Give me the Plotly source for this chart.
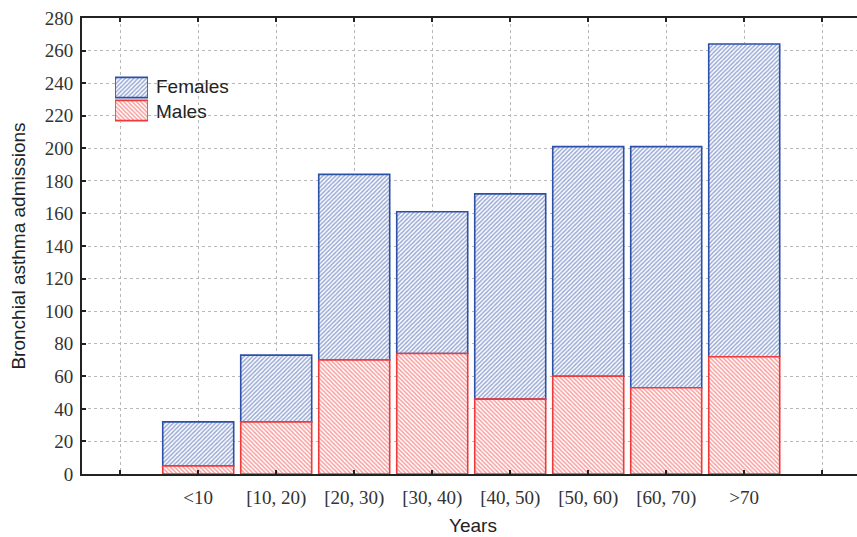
import plotly.graph_objects as go

# Age groups (with an empty slot on each side of the axis)
age_groups = ["<10", "[10, 20)", "[20, 30)", "[30, 40)", "[40, 50)",
              "[50, 60)", "[60, 70)", ">70"]
males = [5, 32, 70, 74, 46, 60, 53, 72]
totals = [32, 73, 184, 161, 172, 201, 201, 264]
females = [t - m for t, m in zip(totals, males)]
y_ticks = list(range(0, 281, 20))

positions = list(range(1, len(age_groups) + 1))
tick_positions = list(range(0, len(age_groups) + 2))
tick_labels = [""] + age_groups + [""]

BLUE = "#2c50a8"
BLUE_HATCH = "#3454ac"
RED = "#f03a3a"
RED_HATCH = "#f04040"
AXIS = "#222222"
GRID = "#b8b8b8"
HATCH_SIZE = 3
HATCH_SOLIDITY = 0.5

W, H = 857, 537
ML, MR, MT, MB = 82, 0, 18, 63
PW, PH = W - ML - MR, H - MT - MB
SLOT = 78.0

SERIF = dict(family="Liberation Serif", size=19, color="#333")
SANS = dict(family="Liberation Sans", size=19, color="#222")

fig = go.Figure()

fig.add_trace(go.Bar(
    x=positions, y=females, base=males, name="Females", width=0.91,
    marker=dict(color="white", line=dict(color=BLUE, width=1.6),
                pattern=dict(shape="/", fgcolor=BLUE_HATCH, bgcolor="white",
                             size=HATCH_SIZE, solidity=HATCH_SOLIDITY)),
    showlegend=False,
))
fig.add_trace(go.Bar(
    x=positions, y=males, name="Males", width=0.91,
    marker=dict(color="white", line=dict(color=RED, width=1.6),
                pattern=dict(shape="\\", fgcolor=RED_HATCH, bgcolor="white",
                             size=HATCH_SIZE, solidity=HATCH_SOLIDITY)),
    showlegend=False,
))

# Legend swatches drawn as hatched bars on a small inset axis
legend_names = ["Males", "Females"]
legend_fg = [RED_HATCH, BLUE_HATCH]
legend_line = [RED, BLUE]
legend_shape = ["\\", "/"]
for name, fg, ln, shp in zip(legend_names, legend_fg, legend_line, legend_shape):
    fig.add_trace(go.Bar(
        x=[1], y=[name], orientation="h", width=0.88,
        xaxis="x2", yaxis="y2", showlegend=False, hoverinfo="skip",
        marker=dict(color="white", line=dict(color=ln, width=1.6),
                    pattern=dict(shape=shp, fgcolor=fg, bgcolor="white",
                                 size=HATCH_SIZE, solidity=HATCH_SOLIDITY)),
    ))

def px_x(p):
    return (p - ML) / PW

def px_y(p):
    return (H - MB - p) / PH

fig.update_layout(
    width=W, height=H,
    margin=dict(l=ML, r=MR, t=MT, b=MB, autoexpand=False),
    paper_bgcolor="white", plot_bgcolor="white",
    barmode="overlay",
    showlegend=False,
    xaxis=dict(
        range=[-0.49, -0.49 + PW / SLOT],
        tickmode="array", tickvals=tick_positions, ticktext=tick_labels,
        ticks="inside", ticklen=4, tickwidth=1.5, tickcolor=AXIS,
        showline=True, linecolor=AXIS, linewidth=2, mirror="ticks",
        showgrid=True, gridcolor=GRID, griddash="dot", gridwidth=1,
        zeroline=False,
        tickfont=SERIF,
        ticklabelstandoff=5,
        automargin=False,
    ),
    yaxis=dict(
        range=[0, 280], tickmode="array", tickvals=y_ticks,
        ticks="inside", ticklen=4, tickwidth=1.5, tickcolor=AXIS,
        showline=True, linecolor=AXIS, linewidth=2, mirror=False,
        showgrid=True, gridcolor=GRID, griddash="dot", gridwidth=1,
        zeroline=False,
        tickfont=SERIF,
        ticklabelstandoff=3,
        title=dict(text="Bronchial asthma admissions", standoff=14, font=SANS),
        automargin=False,
    ),
    xaxis2=dict(domain=[px_x(115), px_x(148)], range=[0, 1], anchor="y2",
                visible=False, fixedrange=True),
    yaxis2=dict(domain=[px_y(122), px_y(76)], range=[-0.5, 1.5], anchor="x2",
                type="category", categoryorder="array",
                categoryarray=legend_names, visible=False, fixedrange=True),
    annotations=[
        dict(x=px_x(154), y=px_y(87), xref="paper", yref="paper",
             text="Females", showarrow=False, xanchor="left", yanchor="middle",
             font=SANS),
        dict(x=px_x(154), y=px_y(111), xref="paper", yref="paper",
             text="Males", showarrow=False, xanchor="left", yanchor="middle",
             font=SANS),
        # x-axis title
        dict(x=px_x(473), y=px_y(525), xref="paper", yref="paper",
             text="Years", showarrow=False, xanchor="center", yanchor="middle",
             font=SANS),
    ],
)

fig.write_html("out.html")
